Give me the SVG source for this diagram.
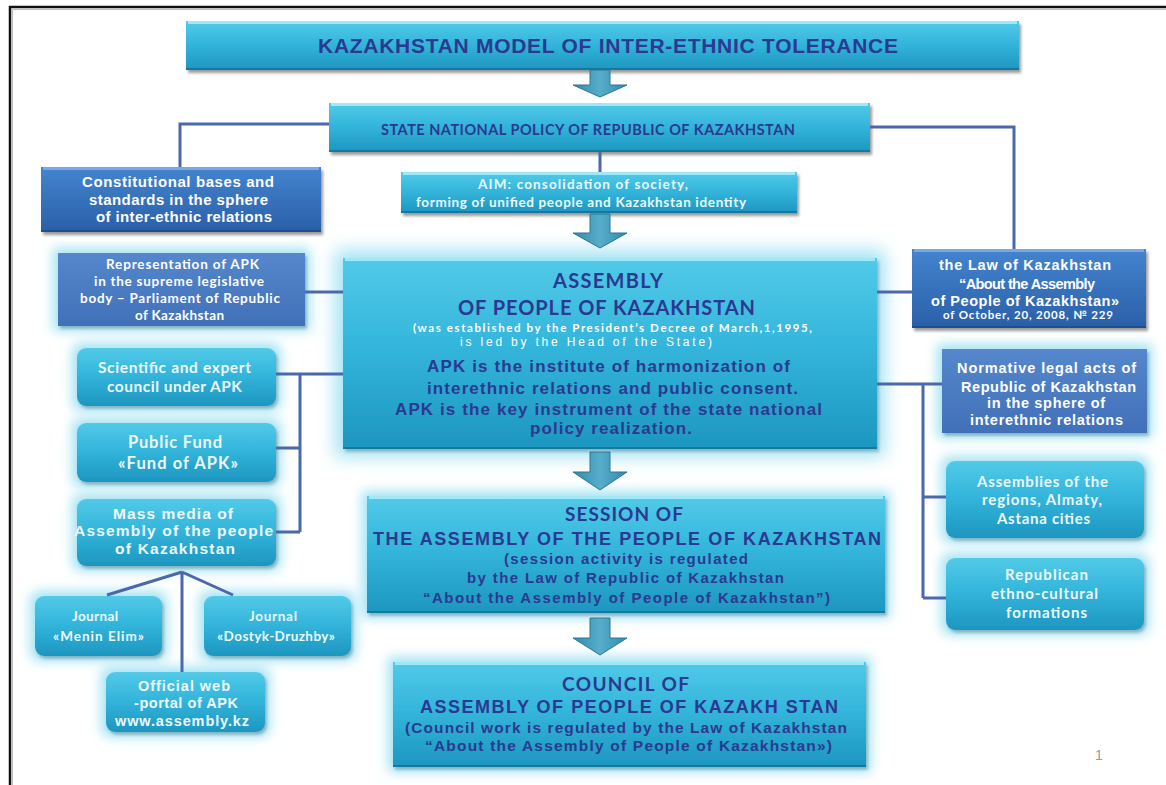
<svg xmlns="http://www.w3.org/2000/svg" width="1166" height="785" viewBox="0 0 1166 785" xml:space="preserve">
<style>
.cy{fill:url(#gCy)}
.db{fill:url(#gDb)}
.mb{fill:url(#gMb)}
.hl{stroke:#9fe8f8;stroke-width:3;fill:none}
.hlb{stroke:#7aa8e0;stroke-width:3;fill:none}
.dk{stroke:#15789c;stroke-width:2;fill:none}
.dkb{stroke:#204f8e;stroke-width:2;fill:none}
.con{stroke:#4a68ab;stroke-width:3;fill:none}
.arr{fill:url(#gAr);stroke:#2a7794;stroke-width:1}
.a{font-family:"Liberation Sans",Arial,sans-serif;font-weight:bold}
.c{font-family:Lato,"Open Sans",sans-serif;font-weight:bold}
.nv{fill:#2b3990}
.wt{fill:#ffffff}
.lt{fill:#eef9fd}
</style>
<defs>
<linearGradient id="gCy" x1="0" y1="0" x2="0" y2="1">
<stop offset="0" stop-color="#52cae8"/><stop offset="0.45" stop-color="#34b6dc"/><stop offset="1" stop-color="#1d96c0"/>
</linearGradient>
<linearGradient id="gDb" x1="0" y1="0" x2="0" y2="1">
<stop offset="0" stop-color="#4484cf"/><stop offset="1" stop-color="#2a5fa8"/>
</linearGradient>
<linearGradient id="gMb" x1="0" y1="0" x2="0" y2="1">
<stop offset="0" stop-color="#5587cc"/><stop offset="1" stop-color="#4170b8"/>
</linearGradient>
<linearGradient id="gAr" x1="0" y1="0" x2="1" y2="0">
<stop offset="0" stop-color="#3589aa"/><stop offset="0.5" stop-color="#56aecb"/><stop offset="1" stop-color="#3589aa"/>
</linearGradient>
<filter id="sh" x="-5%" y="-10%" width="115%" height="135%">
<feGaussianBlur in="SourceAlpha" stdDeviation="1.5"/>
<feOffset dx="2" dy="3" result="o"/>
<feComponentTransfer><feFuncA type="linear" slope="0.4"/></feComponentTransfer>
<feMerge><feMergeNode/><feMergeNode in="SourceGraphic"/></feMerge>
</filter>
<filter id="glow" x="-30%" y="-50%" width="160%" height="200%">
<feMorphology in="SourceAlpha" operator="dilate" radius="5" result="d"/>
<feGaussianBlur in="d" stdDeviation="6" result="b"/>
<feFlood flood-color="#a3e3f3"/>
<feComposite in2="b" operator="in" result="g"/>
<feGaussianBlur in="SourceAlpha" stdDeviation="1.5" result="s0"/>
<feOffset in="s0" dx="2" dy="3" result="s1"/>
<feFlood flood-color="#0a4a66" flood-opacity="0.45"/>
<feComposite in2="s1" operator="in" result="s"/>
<feMerge><feMergeNode in="g"/><feMergeNode in="s"/><feMergeNode in="SourceGraphic"/></feMerge>
</filter>
<filter id="glowL" x="-15%" y="-30%" width="130%" height="160%">
<feMorphology in="SourceAlpha" operator="dilate" radius="8" result="d"/>
<feGaussianBlur in="d" stdDeviation="9" result="b"/>
<feFlood flood-color="#a3e3f3"/>
<feComposite in2="b" operator="in" result="g"/>
<feGaussianBlur in="SourceAlpha" stdDeviation="1.5" result="s0"/>
<feOffset in="s0" dx="2" dy="3" result="s1"/>
<feFlood flood-color="#0a4a66" flood-opacity="0.45"/>
<feComposite in2="s1" operator="in" result="s"/>
<feMerge><feMergeNode in="g"/><feMergeNode in="s"/><feMergeNode in="SourceGraphic"/></feMerge>
</filter>
</defs>

<rect x="0" y="0" width="1166" height="785" fill="#ffffff"/>
<path d="M10,785 V7 H1166" fill="none" stroke="#111" stroke-width="2.5"/>
<path d="M12.5,785 V9.5 H1166" fill="none" stroke="#bbb" stroke-width="1"/>

<g id="title">
<rect class="cy" x="186" y="21" width="833" height="49" filter="url(#sh)"/>
<path class="hl" d="M188,22.5 H1017"/><path class="dk" d="M186,69 H1019"/>
<text class="a nv" x="318" y="52.5" font-size="21" textLength="580">KAZAKHSTAN MODEL OF INTER-ETHNIC TOLERANCE</text>
</g>

<g id="state">
<rect class="cy" x="329" y="103" width="541" height="49" filter="url(#sh)"/>
<path class="hl" d="M331,104.5 H868"/><path class="dk" d="M329,151 H870"/>
<text class="c nv" x="381" y="135" font-size="14.5" textLength="414">STATE NATIONAL POLICY OF REPUBLIC OF KAZAKHSTAN</text>
</g>

<g id="constitutional">
<rect class="db" x="41" y="167" width="280" height="65" filter="url(#sh)"/>
<path class="hlb" d="M43,168.5 H319"/><path class="dkb" d="M41,231 H321"/>
<text class="a wt" x="82" y="187" font-size="15" textLength="192">Constitutional  bases and</text>
<text class="a wt" x="89" y="205" font-size="15" textLength="179">standards  in the sphere</text>
<text class="a wt" x="96" y="222" font-size="15" textLength="176">of inter-ethnic relations</text>
</g>

<g id="aim">
<rect class="cy" x="401" y="172" width="396" height="41" filter="url(#sh)"/>
<path class="hl" d="M403,173.5 H795"/><path class="dk" d="M401,212 H797"/>
<text class="c lt" x="478" y="189" font-size="13.5" textLength="210">AIM: consolidation  of society,</text>
<text class="c lt" x="416" y="207" font-size="13.5" textLength="330">forming of unified people and Kazakhstan identity</text>
</g>

<g id="assembly">
<rect class="cy" x="343" y="258" width="534" height="191" filter="url(#glowL)"/>
<path class="hl" d="M345,259.5 H875"/><path class="dk" d="M343,448 H877"/>
<text class="c nv" x="553" y="288" font-size="20" textLength="110">ASSEMBLY</text>
<text class="c nv" x="458" y="315" font-size="20" textLength="297">OF PEOPLE OF KAZAKHSTAN</text>
<text class="c wt" x="413" y="332" font-size="11.5" font-weight="normal" textLength="399">(was established by the President’s Decree of March,1,1995,</text>
<text x="460" y="346" font-family="'Liberation Sans',Arial,sans-serif" font-size="12" fill="#ffffff" textLength="252">is led by the Head  of the State)</text>
<text class="a nv" x="427" y="372" font-size="17" textLength="363">APK is the institute  of harmonization of</text>
<text class="a nv" x="427" y="394" font-size="17" textLength="371">interethnic relations and public consent.</text>
<text class="a nv" x="395" y="415" font-size="17" textLength="427">APK is the key instrument  of the state national</text>
<text class="a nv" x="530" y="434" font-size="17" textLength="162">policy realization.</text>
</g>

<g id="representation">
<rect class="mb" x="58" y="253" width="247" height="73" filter="url(#glow)"/>
<text class="c wt" x="106" y="268.5" font-size="13.5" textLength="153">Representation of APK</text>
<text class="c wt" x="94" y="285.5" font-size="13.5" textLength="170">in the supreme legislative</text>
<text class="c wt" x="80" y="302.5" font-size="13.5" textLength="200">body – Parliament of Republic</text>
<text class="c wt" x="135" y="319.5" font-size="13.5" textLength="89">of Kazakhstan</text>
</g>

<g id="scientific">
<rect class="cy" x="77" y="348" width="199" height="58" rx="9" filter="url(#glow)"/>
<text class="c lt" x="98" y="373" font-size="15.5" textLength="153">Scientific and expert</text>
<text class="c lt" x="107" y="392" font-size="15.5" textLength="135">council under APK</text>
</g>

<g id="publicfund">
<rect class="cy" x="77" y="423" width="199" height="59" rx="9" filter="url(#glow)"/>
<text class="c lt" x="128" y="447.5" font-size="16.5" textLength="94">Public Fund</text>
<text class="c lt" x="118" y="468.5" font-size="16.5" textLength="120">«Fund of APK»</text>
</g>

<g id="massmedia">
<rect class="cy" x="77" y="499" width="199" height="67" rx="9" filter="url(#glow)"/>
<text class="a lt" x="113" y="518.5" font-size="15.5" textLength="120">Mass media of</text>
<text class="a lt" x="74" y="535.5" font-size="15.5" textLength="199">Assembly  of the people</text>
<text class="a lt" x="115" y="553.5" font-size="15.5" textLength="120">of Kazakhstan</text>
</g>

<g id="menin">
<rect class="cy" x="35" y="596" width="127" height="60" rx="9" filter="url(#glow)"/>
<text class="c lt" x="72" y="621" font-size="13.5" textLength="46">Journal</text>
<text class="c lt" x="53" y="641" font-size="13.5" textLength="91">«Menin Elim»</text>
</g>

<g id="dostyk">
<rect class="cy" x="204" y="596" width="147" height="60" rx="9" filter="url(#glow)"/>
<text class="c lt" x="249" y="621" font-size="13.5" textLength="48">Journal</text>
<text class="c lt" x="217" y="641" font-size="13.5" textLength="118">«Dostyk-Druzhby»</text>
</g>

<g id="webportal">
<rect class="cy" x="106" y="672" width="159" height="60" rx="9" filter="url(#glow)"/>
<text class="a lt" x="138" y="691" font-size="14.5" textLength="92">Official web</text>
<text class="a lt" x="134" y="708" font-size="14.5" textLength="104">-portal of APK</text>
<text class="a lt" x="115" y="726" font-size="14.5" textLength="134">www.assembly.kz</text>
</g>

<g id="law">
<rect class="db" x="912" y="249" width="234" height="79" filter="url(#sh)"/>
<path class="hlb" d="M914,250.5 H1144"/><path class="dkb" d="M912,327 H1146"/>
<text class="a wt" x="939" y="270" font-size="14.5" textLength="172">the Law of Kazakhstan</text>
<text class="a wt" x="959" y="289" font-size="14.5" textLength="136">“About the Assembly</text>
<text class="a wt" x="931" y="306" font-size="14.5" textLength="188">of People of Kazakhstan»</text>
<text class="c wt" x="943" y="318.5" font-size="11.5" textLength="170">of October, 20, 2008, № 229</text>
</g>

<g id="normative">
<rect class="mb" x="942" y="349" width="205" height="84" filter="url(#glow)"/>
<text class="a wt" x="957" y="373" font-size="14.5" textLength="179">Normative legal acts of</text>
<text class="a wt" x="961" y="392" font-size="14.5" textLength="175">Republic of Kazakhstan</text>
<text class="a wt" x="987" y="408" font-size="14.5" textLength="118">in the sphere of</text>
<text class="a wt" x="970" y="425" font-size="14.5" textLength="153">interethnic relations</text>
</g>

<g id="assemblies">
<rect class="cy" x="946" y="461" width="198" height="77" rx="9" filter="url(#glow)"/>
<text class="c lt" x="977" y="487" font-size="15" textLength="131">Assemblies of the</text>
<text class="c lt" x="982" y="505" font-size="15" textLength="120">regions, Almaty,</text>
<text class="c lt" x="997" y="524" font-size="15" textLength="93">Astana cities</text>
</g>

<g id="republican">
<rect class="cy" x="946" y="558" width="198" height="72" rx="9" filter="url(#glow)"/>
<text class="c lt" x="1005" y="580" font-size="15" textLength="83">Republican</text>
<text class="c lt" x="991" y="599" font-size="15" textLength="107">ethno-cultural</text>
<text class="c lt" x="1006" y="618" font-size="15" textLength="81">formations</text>
</g>

<g id="session">
<rect class="cy" x="367" y="496" width="518" height="117" filter="url(#glow)"/>
<path class="hl" d="M369,497.5 H883"/><path class="dk" d="M367,612 H885"/>
<text class="c nv" x="565" y="521" font-size="19" textLength="118">SESSION OF</text>
<text class="a nv" x="373" y="545" font-size="18" textLength="508">THE ASSEMBLY  OF THE PEOPLE  OF KAZAKHSTAN</text>
<text class="a nv" x="504" y="564" font-size="15" textLength="244">(session activity is regulated</text>
<text class="a nv" x="467" y="583" font-size="15" textLength="317">by the Law of Republic of Kazakhstan</text>
<text class="a nv" x="423" y="603" font-size="15" textLength="407">“About the Assembly  of People of Kazakhstan”)</text>
</g>

<g id="council">
<rect class="cy" x="393" y="662" width="473" height="105" filter="url(#glow)"/>
<path class="hl" d="M395,663.5 H864"/><path class="dk" d="M393,766 H866"/>
<text class="c nv" x="562" y="690.5" font-size="19" textLength="127">COUNCIL  OF</text>
<text class="a nv" x="420" y="713" font-size="18" textLength="418">ASSEMBLY  OF PEOPLE  OF KAZAKH STAN</text>
<text class="a nv" x="405" y="733" font-size="15.5" textLength="442">(Council work is regulated by the Law of Kazakhstan</text>
<text class="a nv" x="425" y="751" font-size="15.5" textLength="407">“About the Assembly  of People of Kazakhstan»)</text>
</g>

<g id="connectors">
<polygon class="arr" points="590,70 610,70 610,85 627,85 600,97 573,85 590,85"/>
<polygon class="arr" points="590,214 610,214 610,233 627,233 600,248 573,233 590,233"/>
<polygon class="arr" points="590,452 610,452 610,472 627,472 600,490 573,472 590,472"/>
<polygon class="arr" points="590,618 610,618 610,638 627,638 600,655 573,638 590,638"/>
<path class="con" d="M329,124 H180 V167"/>
<path class="con" d="M600,152 V172"/>
<path class="con" d="M870,127 H1014 V249"/>
<path class="con" d="M305,292 H343"/>
<path class="con" d="M276,374 H343 M300,374 V532 M276,448 H300 M276,532 H300"/>
<path class="con" d="M182,572 L107,595 M182,572 L233,595 M182,572 V672"/>
<path class="con" d="M877,292 H912 M877,384 H942 M923,384 V598 M923,497 H946 M923,598 H946"/>
</g>

<text x="1099" y="760" font-family="'Liberation Sans',Arial,sans-serif" font-size="14" fill="#9a9a9a" text-anchor="middle">1</text>
</svg>
